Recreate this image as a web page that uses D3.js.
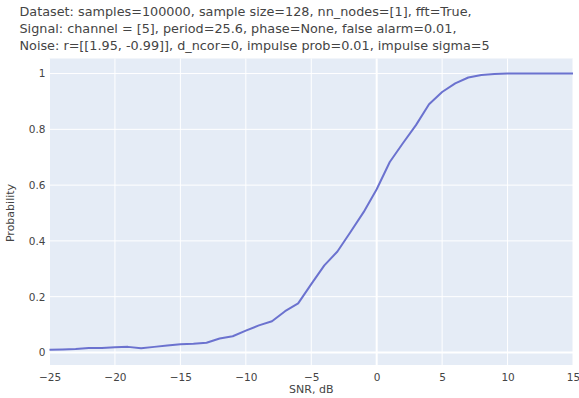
<!DOCTYPE html>
<html>
<head>
<meta charset="utf-8">
<script src="https://cdn.jsdelivr.net/npm/d3@7"></script>
<style>
  body { margin: 0; background: #fff; }
  svg text { font-family: "DejaVu Sans", Verdana, sans-serif; fill: #444; }
</style>
</head>
<body>
<div id="chart"></div>
<script>
// values
const snr = [-25,-24,-23,-22,-21,-20,-19,-18,-17,-16,-15,-14,-13,-12,-11,-10,-9,-8,-7,-6,-5,-4,-3,-2,-1,0,1,2,3,4,5,6,7,8,9,10,11,12,13,14,15];
const prob = [0.010,0.011,0.012,0.016,0.016,0.019,0.020,0.015,0.020,0.025,0.029,0.031,0.035,0.050,0.058,0.078,0.097,0.112,0.148,0.176,0.245,0.312,0.362,0.432,0.503,0.585,0.683,0.750,0.815,0.890,0.934,0.965,0.986,0.995,0.998,1.0,1.0,1.0,1.0,1.0,1.0];
const xTicks = [-25,-20,-15,-10,-5,0,5,10,15];
const yTicks = [0,0.2,0.4,0.6,0.8,1];
const titleLines = [
  "Dataset: samples=100000, sample size=128, nn_nodes=[1], fft=True,",
  "Signal: channel = [5], period=25.6, phase=None, false alarm=0.01,",
  "Noise: r=[[1.95, -0.99]], d_ncor=0, impulse prob=0.01, impulse sigma=5"
];

const W = 579, H = 398;
const m = {left: 49.5, right: 6, top: 58.5, bottom: 33};
const pw = W - m.left - m.right, ph = H - m.top - m.bottom;

const svg = d3.select("#chart").append("svg")
  .attr("width", W).attr("height", H);

svg.selectAll(".ttl").data(titleLines).enter().append("text")
  .attr("class", "ttl")
  .attr("x", 19.5)
  .attr("y", (d, i) => 16 + i * 17)
  .style("font-size", "12.8px")
  .text(d => d);

const x = d3.scaleLinear().domain([-25, 15]).range([0, pw]);
const y = d3.scaleLinear().domain([-0.045, 1.054]).range([ph, 0]);

const g = svg.append("g").attr("transform", `translate(${m.left},${m.top})`);

g.append("rect").attr("width", pw).attr("height", ph).attr("fill", "#e5ecf6");

// grid
g.selectAll(".gx").data(xTicks).enter().append("line")
  .attr("x1", d => x(d)).attr("x2", d => x(d))
  .attr("y1", 0).attr("y2", ph)
  .attr("stroke", "#fff").attr("stroke-width", d => d === 0 ? 2 : 1);
g.selectAll(".gy").data(yTicks).enter().append("line")
  .attr("x1", 0).attr("x2", pw)
  .attr("y1", d => y(d)).attr("y2", d => y(d))
  .attr("stroke", "#fff").attr("stroke-width", d => d === 0 ? 2 : 1);

// axes (labels only)
const xAxis = g.append("g").attr("transform", `translate(0,${ph})`)
  .call(d3.axisBottom(x).tickValues(xTicks).tickSize(0).tickPadding(9)
    .tickFormat(d => d < 0 ? "\u2212" + Math.abs(d) : d));
const yAxis = g.append("g")
  .call(d3.axisLeft(y).tickValues(yTicks).tickSize(0).tickPadding(4)
    .tickFormat(d => d));
[xAxis, yAxis].forEach(a => {
  a.select(".domain").remove();
  a.selectAll("text").style("font-size", "10.5px")
    .style("font-family", "\"DejaVu Sans\", Verdana, sans-serif").attr("fill", "#444");
});

const line = d3.line().x((d, i) => x(snr[i])).y(d => y(d));
g.append("path").datum(prob)
  .attr("d", line)
  .attr("fill", "none")
  .attr("stroke", "#6b72cf")
  .attr("stroke-width", 2)
  .attr("stroke-linejoin", "round");

svg.append("text")
  .attr("x", m.left + pw / 2).attr("y", 393)
  .attr("text-anchor", "middle")
  .style("font-size", "11px")
  .text("SNR, dB");

svg.append("text")
  .attr("transform", `translate(14,${m.top + y(0.5)}) rotate(-90)`)
  .attr("text-anchor", "middle")
  .style("font-size", "11px")
  .text("Probability");
</script>
</body>
</html>
